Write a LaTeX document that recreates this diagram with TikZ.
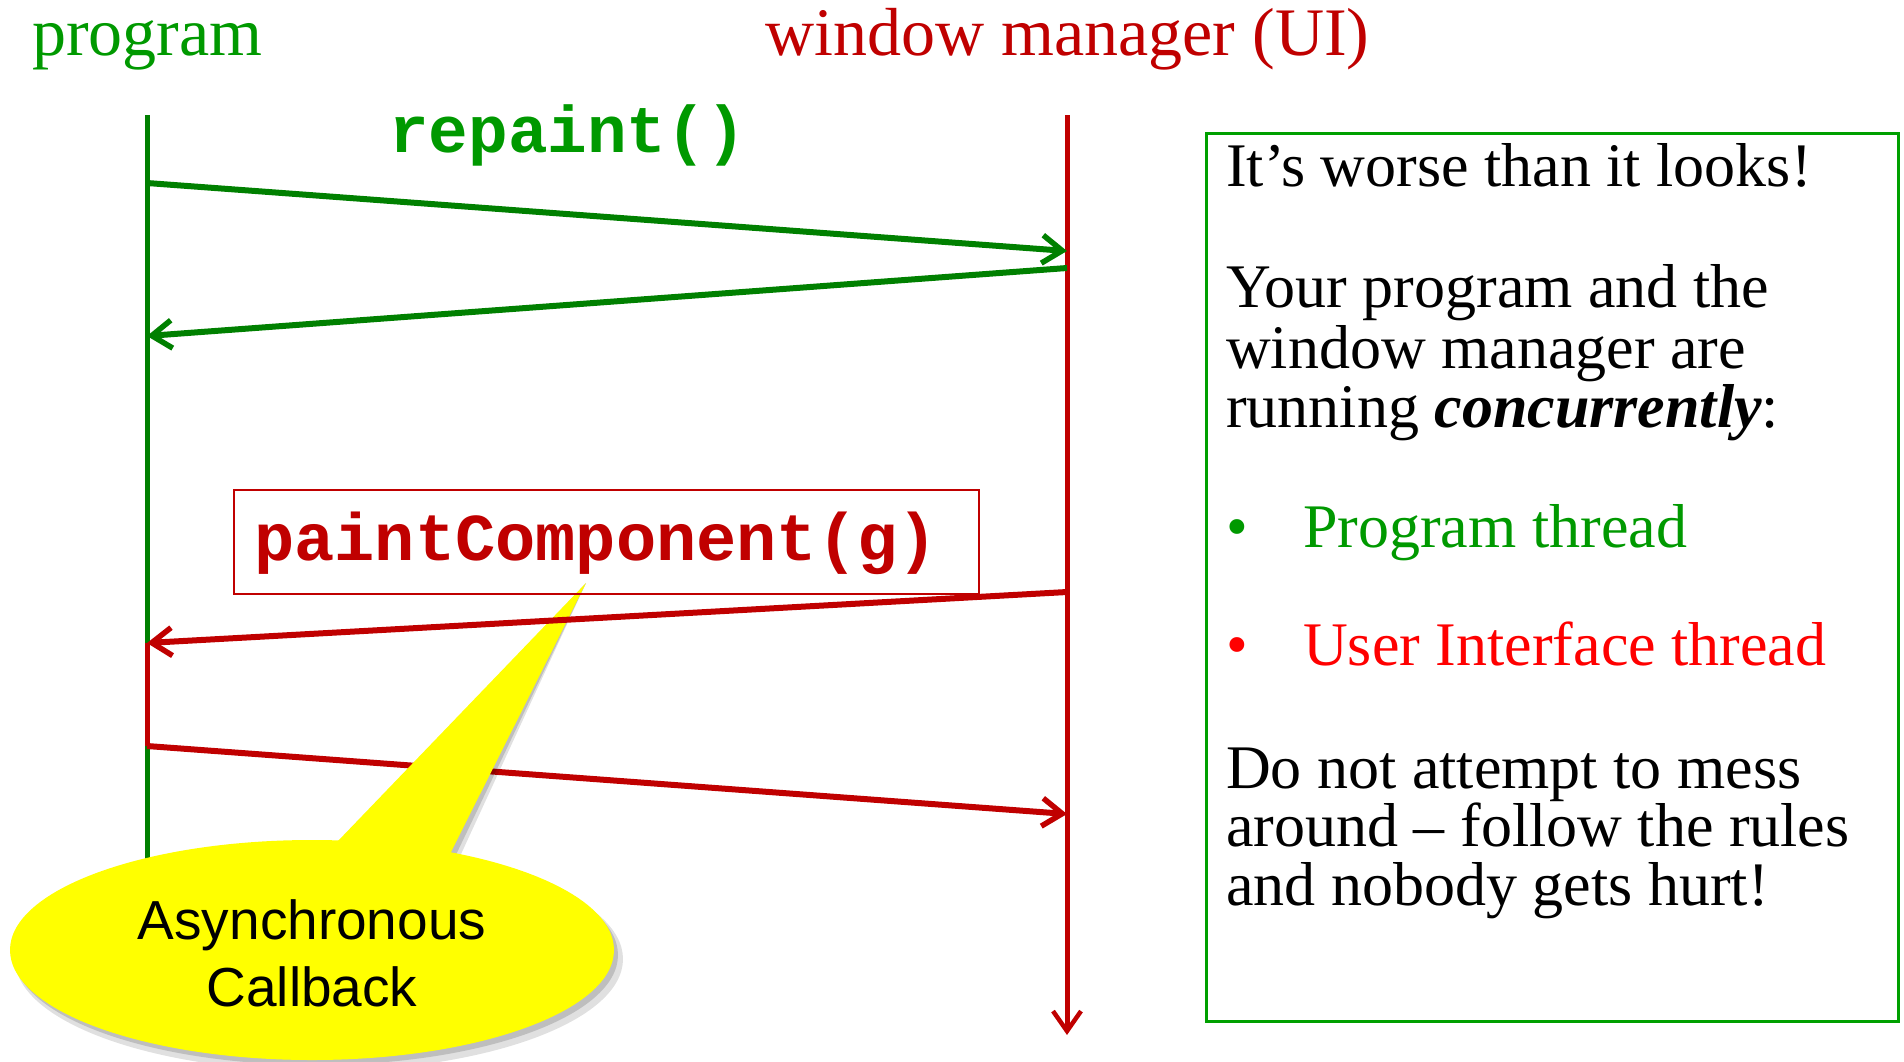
\documentclass[tikz,border=0pt]{standalone}
\usepackage{fontspec}
\setmainfont{Liberation Serif}
\newfontfamily\arialf{Liberation Sans}
\newfontfamily\courf{Liberation Mono}
\usetikzlibrary{arrows.meta,shapes.geometric}
\definecolor{pgreen}{RGB}{0,153,0}
\definecolor{lgreen}{RGB}{0,128,0}
\definecolor{bgreen}{RGB}{0,160,0}
\definecolor{dred}{RGB}{192,0,0}
\definecolor{bred}{RGB}{255,0,0}
\definecolor{cyellow}{RGB}{255,255,0}
\begin{document}
\begin{tikzpicture}[x=1pt,y=-1pt,
  title/.style={anchor=base west, inner sep=0pt, font=\fontsize{68}{60}\selectfont},
  note/.style={anchor=base west, inner sep=0pt, font=\fontsize{62}{60}\selectfont},
  code/.style={anchor=base west, inner sep=0pt, font=\courf\bfseries\fontsize{67}{67}\selectfont},
  cbtxt/.style={anchor=base, inner sep=0pt, font=\arialf\fontsize{55}{67}\selectfont},
  life/.style={line width=5pt},
  msg/.style={line width=6pt, -{Straight Barb[length=20pt,width=28pt,line width=5.5pt]}},
  callshape/.style={fill=cyellow, draw=none}
]
\useasboundingbox (0,0) rectangle (1904,1061);
\fill[white] (0,0) rectangle (1904,1061);

% titles
\node[title, text=pgreen] (tprog) at (32,55) {program};
\node[title, text=dred] (tui) at (765,55) {window manager (UI)};

% lifelines
\coordinate (ptop) at (147,115);
\coordinate (pbot) at (147,900);
\coordinate (utop) at (1067,115);
\coordinate (ubot) at (1067,1035);
\draw[life, lgreen] (ptop) -- (pbot);
\draw[life, dred, -{Straight Barb[length=20pt,width=28pt,line width=4.5pt]}] (utop) -- (ubot);

% message end points
\coordinate (a1s) at (147,183);
\coordinate (a1e) at (1067,251);
\coordinate (a2s) at (1067,268);
\coordinate (a2e) at (147,336);
\coordinate (a3s) at (1067,592);
\coordinate (a3e) at (147,643);
\coordinate (a4s) at (147,746);
\coordinate (a4e) at (1067,814);

\node[code, text=pgreen, font=\courf\bfseries\fontsize{66}{66}\selectfont] (rep) at (389,152) {repaint()};
\draw[msg, lgreen] (a1s) -- (a1e);
\draw[msg, lgreen] (a2s) -- (a2e);
\draw[line width=5pt, dred] (a3e) -- (a4s);
\draw[msg, dred] (a4s) -- (a4e);

% callout
\coordinate (tip) at (586,583);
\begin{scope}[shift={(7,9)}]
  \fill[black, opacity=0.12] (312,950) ellipse [x radius=304pt, y radius=112pt];
  \fill[black, opacity=0.12] (tip) -- (337,842) -- (449,856) -- cycle;
\end{scope}
\begin{scope}[shift={(4,5)}]
  \fill[black, opacity=0.15] (312,950) ellipse [x radius=302pt, y radius=110pt];
  \fill[black, opacity=0.15] (tip) -- (337,842) -- (449,856) -- cycle;
\end{scope}
\node[ellipse, callshape, minimum width=604pt, minimum height=220pt, inner sep=0pt] (callout) at (312,950) {};
\fill[callshape] (tip) -- (337,842) -- (449,856) -- cycle;
\node[cbtxt] (cb1) at (312,939) {Asynchronous};
\node[cbtxt] (cb2) at (312,1006) {Callback};

\draw[msg, dred] (a3s) -- (a3e);

% paintComponent box
\node[draw=dred, line width=2pt, minimum width=745pt, minimum height=104pt, anchor=north west, inner sep=0pt] (pcbox) at (233,489) {};
\node[code, text=dred] (pc) at (254,560) {paintComponent(g)};

% right note
\node[draw=bgreen, line width=2.5pt, minimum width=692pt, minimum height=888pt, anchor=north west, inner sep=0pt] (notebox) at (1205,132) {};
\node[note] (l1) at (1226,186) {It’s worse than it looks!};
\node[note] (l2) at (1226,307) {Your program and the};
\node[note] (l3) at (1226,368) {window manager are};
\node[note] (l4) at (1226,427) {running \textbf{\textit{concurrently}}:};
\node[note, text=pgreen] (b1) at (1226,547) {•};
\node[note, text=pgreen] (l5) at (1303,547) {Program thread};
\node[note, text=bred] (b2) at (1226,665) {•};
\node[note, text=bred] (l6) at (1303,665) {User Interface thread};
\node[note] (l7) at (1226,788) {Do not attempt to mess};
\node[note] (l8) at (1226,846) {around – follow the rules};
\node[note] (l9) at (1226,905) {and nobody gets hurt!};
\end{tikzpicture}
\end{document}
